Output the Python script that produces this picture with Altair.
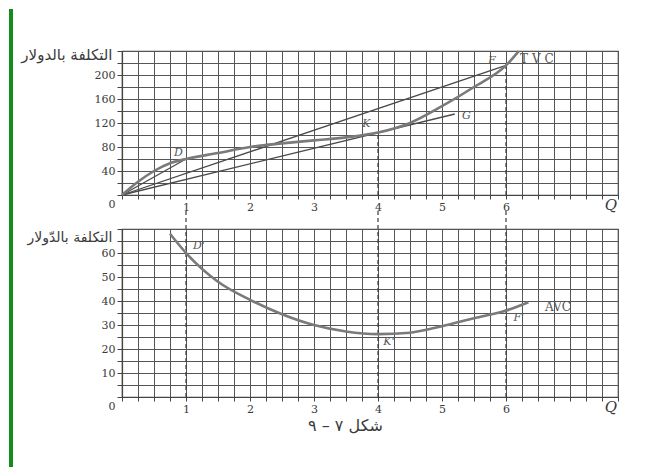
import altair as alt
import pandas as pd
import numpy as np

# ---- data ----
q_tvc = [0, 0.25, 0.5, 0.75, 1, 1.5, 2, 2.5, 3, 3.5, 4, 4.5, 5, 5.5, 6, 6.2]
tvc = [0, 22, 40, 53, 60, 70, 80, 86, 91, 96, 104, 120, 148, 180, 216, 240]

ray_upper_q = [0, 6]
ray_upper_v = [0, 216]
ray_lower_q = [0, 5.2]
ray_lower_v = [0, 135]
ray_d_q = [0, 1]
ray_d_v = [0, 60]

q_avc = [0.75, 1, 1.5, 2, 2.5, 3, 3.5, 4, 4.5, 5, 5.5, 6, 6.35]
avc = [68, 60, 48, 40.5, 34.5, 30, 27.3, 26.2, 26.8, 29.5, 32.8, 36, 39.5]

top_labels = ["D", "K", "G", "F"]
top_label_q = [0.88, 3.82, 5.38, 5.78]
top_label_v = [70, 118, 131, 223]

bot_labels = ["D'", "K'", "F'"]
bot_label_q = [1.2, 4.17, 6.2]
bot_label_v = [63, 23, 33]

top_dash_q = [4, 6]
top_dash_v = [104, 216]
bot_dash_q = [1, 4, 6]

y_title_top = "التكلفة بالدولار"
y_title_bot = "التكلفة بالدّولار"
caption = "شكل  ٧  –  ٩"

# ---- layout constants ----
W = 496
H_TOP = 144
H_BOT = 168
SERIF = "DejaVu Serif"
ARABIC = "DejaVu Sans"
INK = "#3a3a3a"
CURVE = "#7a7a7a"
GREEN = "#148c1c"

x_scale = alt.Scale(domain=[0, 7.75], nice=False, zero=False)
x_grid_vals = [float(v) for v in np.arange(0, 7.76, 0.25)]


def x_axis(**kw):
    return alt.Axis(
        values=x_grid_vals,
        labelExpr="(datum.value >= 1 && datum.value <= 6 && datum.value % 1 == 0) ? format(datum.value, 'd') : ''",
        grid=True, tickSize=4, labelPadding=2, labelOverlap=False,
        labelFont=SERIF, labelFontSize=11, labelColor=INK, labelAngle=0, **kw)


def y_axis(values, lab_expr, title, title_y, title_size):
    return alt.Axis(
        values=values, labelExpr=lab_expr,
        grid=True, tickSize=5, labelPadding=2, labelOverlap=False,
        labelFont=SERIF, labelFontSize=11, labelColor=INK,
        title=title, titleAngle=0, titleAlign="right", titleBaseline="middle",
        titleX=-10, titleY=title_y, titleFont=ARABIC, titleFontSize=title_size,
        titleFontWeight="normal", titleColor=INK)


one = pd.DataFrame({"k": [0]})

# ---------------- top panel ----------------
ty_scale = alt.Scale(domain=[0, 240], nice=False)
ty_axis = y_axis(list(range(0, 241, 20)),
                 "(datum.value >= 40 && datum.value <= 200 && datum.value % 40 == 0) ? format(datum.value, 'd') : ''",
                 y_title_top, 3, 15)
tx_axis = x_axis(title=None)

TX = alt.X("Q:Q", scale=x_scale, axis=tx_axis)
TY = alt.Y("C:Q", scale=ty_scale, axis=ty_axis)

tvc_df = pd.DataFrame({"Q": q_tvc, "C": tvc})
ray_df = pd.concat([
    pd.DataFrame({"Q": ray_upper_q, "C": ray_upper_v, "r": "u"}),
    pd.DataFrame({"Q": ray_lower_q, "C": ray_lower_v, "r": "l"}),
    pd.DataFrame({"Q": ray_d_q, "C": ray_d_v, "r": "d"}),
])
tdash_df = pd.DataFrame({"Q": top_dash_q, "C": top_dash_v, "lo": [0] * len(top_dash_q)})
tlab_df = pd.DataFrame({"Q": top_label_q, "C": top_label_v, "t": top_labels})

rays = alt.Chart(ray_df).mark_line(color="#4a4a4a", strokeWidth=1.3).encode(
    x=TX, y=TY, detail="r:N")
tdash = alt.Chart(tdash_df).mark_rule(color=INK, strokeDash=[4, 3], strokeWidth=1.2).encode(
    x=TX, y=alt.Y("lo:Q", scale=ty_scale, axis=ty_axis), y2="C:Q")
tvc_line = alt.Chart(tvc_df).mark_line(color=CURVE, strokeWidth=2.6, interpolate="monotone").encode(
    x=TX, y=TY)
tlab = alt.Chart(tlab_df).mark_text(font=SERIF, fontStyle="italic", fontSize=11, color="#555").encode(
    x=TX, y=TY, text="t:N")
tvc_txt = alt.Chart(pd.DataFrame({"Q": [6.22], "C": [227], "t": ["T V C"]})).mark_text(
    font=SERIF, fontSize=12, color="#555", align="left", baseline="middle").encode(
    x=TX, y=TY, text="t:N")
zero_top = alt.Chart(pd.DataFrame({"t": ["0"]})).mark_text(font=SERIF, fontSize=11, color=INK).encode(
    x=alt.value(-10), y=alt.value(H_TOP + 10), text="t:N")
q_top = alt.Chart(pd.DataFrame({"t": ["Q"]})).mark_text(font=SERIF, fontSize=15, fontStyle="italic", color=INK).encode(
    x=alt.value(489), y=alt.value(H_TOP + 10), text="t:N")
# green frame of the scanned page (left strip)
frame_top = alt.Chart(one).mark_rect(color=GREEN).encode(
    x=alt.value(-113), x2=alt.value(-109), y=alt.value(-42), y2=alt.value(H_TOP + 18))

top = alt.layer(frame_top, rays, tdash, tvc_line, tlab, tvc_txt, zero_top, q_top).properties(
    width=W, height=H_TOP)

# ---------------- bottom panel ----------------
by_scale = alt.Scale(domain=[0, 70], nice=False)
by_axis = y_axis(list(range(0, 71, 5)),
                 "(datum.value >= 10 && datum.value <= 60 && datum.value % 10 == 0) ? format(datum.value, 'd') : ''",
                 y_title_bot, 8, 14)
bx_axis = x_axis(title=caption, titleFont=ARABIC, titleFontSize=16, titleFontWeight="normal", titleColor=INK,
                 titleX=223, titleY=28, titleBaseline="middle", titleAlign="center")

BX = alt.X("Q:Q", scale=x_scale, axis=bx_axis)
BY = alt.Y("C:Q", scale=by_scale, axis=by_axis)

avc_df = pd.DataFrame({"Q": q_avc, "C": avc})
bdash_df = pd.DataFrame({"Q": bot_dash_q, "lo": [0] * len(bot_dash_q), "hi": [78] * len(bot_dash_q)})
blab_df = pd.DataFrame({"Q": bot_label_q, "C": bot_label_v, "t": bot_labels})

bdash = alt.Chart(bdash_df).mark_rule(color=INK, strokeDash=[4, 3], strokeWidth=1.2).encode(
    x=BX, y=alt.Y("lo:Q", scale=by_scale, axis=by_axis), y2="hi:Q")
avc_line = alt.Chart(avc_df).mark_line(color=CURVE, strokeWidth=2.6, interpolate="monotone").encode(
    x=BX, y=BY)
blab = alt.Chart(blab_df).mark_text(font=SERIF, fontStyle="italic", fontSize=11, color="#555").encode(
    x=BX, y=BY, text="t:N")
avc_txt = alt.Chart(pd.DataFrame({"Q": [6.61], "C": [37.5], "t": ["AVC"]})).mark_text(
    font=SERIF, fontSize=12, color="#555", align="left", baseline="middle").encode(
    x=BX, y=BY, text="t:N")
zero_bot = alt.Chart(pd.DataFrame({"t": ["0"]})).mark_text(font=SERIF, fontSize=11, color=INK).encode(
    x=alt.value(-10), y=alt.value(H_BOT + 10), text="t:N")
q_bot = alt.Chart(pd.DataFrame({"t": ["Q"]})).mark_text(font=SERIF, fontSize=15, fontStyle="italic", color=INK).encode(
    x=alt.value(489), y=alt.value(H_BOT + 10), text="t:N")
frame_bot = alt.Chart(one).mark_rect(color=GREEN).encode(
    x=alt.value(-113), x2=alt.value(-109), y=alt.value(-19), y2=alt.value(H_BOT + 71))

bottom = alt.layer(frame_bot, bdash, avc_line, blab, avc_txt, zero_bot, q_bot).properties(
    width=W, height=H_BOT)

chart = alt.vconcat(top, bottom, spacing=-6).configure(
    background="white", padding={"left": 0, "top": 0, "right": 5, "bottom": 0}
).configure_view(stroke="#444", strokeWidth=1.2, fill="white").configure_axis(
    gridColor="#555555", gridWidth=1, gridOpacity=1, domainColor="#444", tickColor="#444", domainWidth=1.2
)

chart.save("out.html", embed_options={"renderer": "svg", "actions": False})
